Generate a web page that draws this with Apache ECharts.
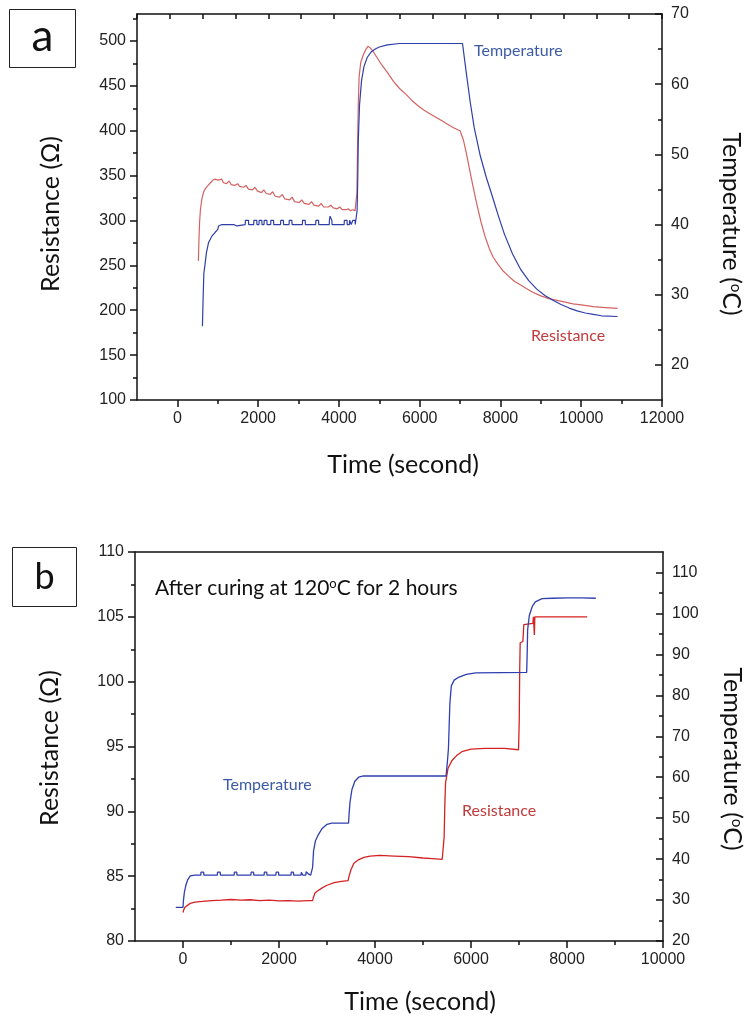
<!DOCTYPE html>
<html><head><meta charset="utf-8">
<script src="https://cdn.jsdelivr.net/npm/echarts@6/dist/echarts.min.js"></script>
<style>html,body{margin:0;padding:0;background:#fff}#c{width:748px;height:1017px}</style>
</head><body><div id="c"></div>
<script>
// ---------- tick labels ----------
const aTimeTicks = [0, 2000, 4000, 6000, 8000, 10000, 12000];
const aTimeMinor = [1000, 3000, 5000, 7000, 9000, 11000];
const aResTicks = [100, 150, 200, 250, 300, 350, 400, 450, 500];
const aResMinor = [125, 175, 225, 275, 325, 375, 425, 475, 525];
const aTempTicks = [20, 30, 40, 50, 60, 70];
const aTempMinor = [25, 35, 45, 55, 65];
const bTimeTicks = [0, 2000, 4000, 6000, 8000, 10000];
const bTimeMinor = [1000, 3000, 5000, 7000, 9000];
const bResTicks = [80, 85, 90, 95, 100, 105, 110];
const bResMinor = [82.5, 87.5, 92.5, 97.5, 102.5, 107.5];
const bTempTicks = [20, 30, 40, 50, 60, 70, 80, 90, 100, 110];
const bTempMinor = [25, 35, 45, 55, 65, 75, 85, 95, 105];

// ---------- panel a: resistance (ohm) vs time (s) ----------
const resA = [[520,255],[535,280],[550,298],[570,312],[600,322],[620,327],[660,333],[700,336],[760,339],[820,342],[880,345],[930,346],[970,344],[1010,345],[1050,343],[1100,346],[1140,342],[1220,341],[1280,344],[1330,340],[1420,339],[1490,341],[1540,338],[1640,337],[1700,339],[1760,335],[1860,334],[1920,337],[1980,333],[2080,331],[2140,334],[2200,330],[2300,329],[2360,332],[2420,327],[2530,326],[2600,329],[2660,324],[2780,323],[2840,326],[2900,321],[3020,320],[3080,323],[3140,319],[3260,318],[3320,321],[3380,317],[3500,316],[3560,319],[3620,315],[3740,315],[3800,317],[3860,314],[3960,313],[4020,315],[4080,312],[4180,312],[4230,313],[4280,311],[4340,312],[4400,311],[4430,313],[4445,330],[4460,380],[4480,430],[4500,460],[4540,476],[4600,484],[4660,490],[4720,494],[4780,492],[4850,488],[4950,481],[5050,474],[5200,465],[5350,455],[5500,447],[5650,441],[5800,434],[5950,428],[6100,423],[6250,419],[6400,415],[6550,411],[6700,407],[6850,403],[7000,400],[7030,398],[7080,390],[7150,376],[7230,358],[7320,338],[7420,317],[7520,298],[7620,282],[7720,269],[7820,259],[7940,251],[8060,244],[8200,238],[8350,232],[8500,228],[8650,224],[8800,220],[9000,216],[9200,213],[9400,211],[9600,209],[9800,207],[10000,206],[10300,204],[10600,203],[10900,202]];

// ---------- panel a: temperature (degC) vs time (s) ----------
const tempA = [[620,25.5],[635,29],[655,33],[688,34.5],[720,36.0],[770,37.4],[850,38.3],[937,38.9],[1000,39.3],[1020,39.8],[1100,40.0],[1400,40.0],[1410,39.8],[1470,39.8],[1480,40.0],
[1680,40.0],[1685,40.6],[1760,40.6],[1765,40.0],
[1890,40.0],[1895,40.6],[1965,40.6],[1970,40.0],
[2020,40.0],[2025,40.6],[2090,40.6],[2095,40.0],
[2145,40.0],[2150,40.6],[2215,40.6],[2220,40.0],
[2310,40.0],[2315,40.6],[2380,40.6],[2385,40.0],
[2555,40.0],[2560,40.6],[2625,40.6],[2630,40.0],
[2765,40.0],[2770,40.6],[2835,40.6],[2840,40.0],
[3095,40.0],[3100,40.6],[3165,40.6],[3170,40.0],
[3425,40.0],[3430,40.6],[3495,40.6],[3500,40.0],
[3760,40.0],[3765,40.6],[3780,41.2],[3810,41.2],[3825,40.6],[3830,40.0],
[4130,40.0],[4135,40.6],[4200,40.6],[4205,40.0],
[4260,40.0],[4265,40.6],[4300,40.6],[4305,40.0],
[4340,40.0],[4345,40.6],[4400,40.6],[4405,40.0],
[4440,40.0],[4450,42],[4465,46],[4480,52],[4510,57],[4560,60.5],[4620,62.5],[4700,63.8],[4800,64.6],[4900,65.0],[5000,65.3],[5200,65.6],[5500,65.8],[7060,65.8],[7150,61.8],[7250,57.5],[7350,53.8],[7500,49.8],[7650,46.7],[7800,44.0],[7950,41.2],[8100,38.6],[8300,35.8],[8500,33.6],[8700,32.0],[8900,30.8],[9100,29.9],[9300,29.2],[9500,28.6],[9700,28.1],[9900,27.7],[10100,27.4],[10300,27.2],[10500,27.0],[10900,26.9]];

// ---------- panel b: temperature (degC) vs time (s) ----------
const tempB = [[-150,28.2],[0,28.2],[10,30],[30,32],[60,33.6],[100,35.0],[150,35.9],[250,36.1],
[370,36.1],[375,36.8],[430,36.8],[435,36.1],
[715,36.1],[720,36.8],[775,36.8],[780,36.1],
[1065,36.1],[1070,36.8],[1120,36.8],[1125,36.1],
[1415,36.1],[1420,36.8],[1470,36.8],[1475,36.1],
[1690,36.1],[1695,36.8],[1745,36.8],[1750,36.1],
[1935,36.1],[1940,36.8],[1990,36.8],[1995,36.1],
[2250,36.1],[2255,36.8],[2300,36.8],[2305,36.1],
[2460,36.1],[2465,36.8],[2490,36.8],[2495,36.1],
[2560,36.1],[2565,36.9],[2600,36.9],[2610,36.4],[2660,36.1],
[2690,36.1],[2700,38],[2720,42],[2760,44.5],[2820,46],[2900,47.5],[3000,48.5],[3100,48.8],[3450,48.8],[3460,51],[3480,54],[3520,57],[3580,59],[3660,60],[3760,60.3],[5480,60.3],[5510,64],[5530,67],[5560,78],[5590,82.3],[5650,83.7],[5740,84.4],[5900,85.1],[6100,85.5],[7160,85.6],[7170,90],[7180,96],[7215,99.5],[7280,101.8],[7340,102.8],[7480,103.6],[7700,103.7],[8000,103.8],[8300,103.8],[8600,103.7]];

// ---------- panel b: resistance (ohm) vs time (s) ----------
const resB = [[0,82.2],[15,82.4],[40,82.6],[80,82.75],[150,82.9],[250,83.0],[400,83.05],[600,83.12],[800,83.15],[1000,83.2],[1200,83.15],[1400,83.18],[1600,83.12],[1800,83.15],[2000,83.1],[2200,83.12],[2400,83.08],[2600,83.12],[2700,83.12],[2720,83.4],[2750,83.7],[2800,83.85],[2900,84.1],[3000,84.3],[3150,84.5],[3300,84.6],[3440,84.65],[3460,85.0],[3500,85.5],[3560,86.0],[3650,86.25],[3770,86.45],[3900,86.55],[4100,86.6],[4400,86.55],[4700,86.5],[5000,86.4],[5200,86.35],[5400,86.3],[5425,86.4],[5440,88],[5455,90.5],[5470,92.2],[5520,93.3],[5600,93.9],[5700,94.3],[5810,94.6],[6000,94.8],[6300,94.85],[6700,94.85],[6990,94.75],[7005,97],[7015,101],[7025,103.0],[7080,103.1],[7090,103.7],[7100,104.4],[7290,104.5],[7300,105.0],[7320,103.6],[7330,105.0],[8420,105.0]];

// ---------- styling ----------
const AX = '#111';
const TF = 'Lato, "Open Sans", sans-serif';
const LINE = {show: true, onZero: false, lineStyle: {color: AX, width: 1.5}};
const NOLINE = {show: false, onZero: false};
const LBL = {fontFamily: '"Liberation Sans", Arial, sans-serif', fontSize: 16, color: '#222'};
const fmt = v => String(v);
const tick = (vals, len, inside) => ({show: true, customValues: vals, length: len, inside: !!inside, lineStyle: {color: AX, width: 1.5}});

function mainX(grid, min, max, ticks) {
  return {type: 'value', gridIndex: grid, position: 'bottom', min, max,
    axisLine: LINE, axisTick: tick(ticks, 7, false),
    axisLabel: Object.assign({customValues: ticks, margin: 11, formatter: fmt}, LBL),
    splitLine: {show: false}};
}
function minorAxis(grid, pos, min, max, vals, inside) {
  return {type: 'value', gridIndex: grid, position: pos, min, max,
    axisLine: NOLINE, axisTick: tick(vals, 4, inside), axisLabel: {show: false}, splitLine: {show: false}};
}
function yMain(grid, pos, min, max, ticks, inside) {
  return {type: 'value', gridIndex: grid, position: pos, min, max,
    axisLine: LINE, axisTick: tick(ticks, 7, inside),
    axisLabel: Object.assign({customValues: ticks, margin: pos === 'left' ? 11 : 9, formatter: fmt}, LBL),
    splitLine: {show: false}};
}
function title(text, x, y, rot) {
  return {type: 'text', x, y, rotation: rot, style: {text, font: '25px ' + TF, fill: '#111',
    textAlign: 'center', textVerticalAlign: 'middle', align: 'center', verticalAlign: 'middle',
    rich: {sup: {fontSize: 15, fontFamily: TF, fill: '#111', verticalAlign: 'top'}}}};
}
function note(text, x, y, color) {
  return {type: 'text', x, y, style: {text, font: '16px ' + TF, fill: color, textVerticalAlign: 'middle', verticalAlign: 'middle'}};
}

const option = {
  animation: false,
  backgroundColor: '#fff',
  grid: [
    {left: 137, top: 14, width: 525, height: 386},
    {left: 135, top: 552, width: 528, height: 389}
  ],
  xAxis: [
    mainX(0, -1000, 12000, aTimeTicks),
    minorAxis(0, 'bottom', -1000, 12000, aTimeMinor, false),
    {type: 'value', gridIndex: 0, position: 'top', min: 0, max: 16, interval: 1, axisLine: LINE,
      axisTick: {show: true, inside: true, length: 5, lineStyle: {color: AX, width: 1.5}}, axisLabel: {show: false}, splitLine: {show: false}},
    mainX(1, -1000, 10000, bTimeTicks),
    minorAxis(1, 'bottom', -1000, 10000, bTimeMinor, false),
    {type: 'value', gridIndex: 1, position: 'top', min: 0, max: 1, axisLine: LINE, axisTick: {show: false}, axisLabel: {show: false}, splitLine: {show: false}}
  ],
  yAxis: [
    yMain(0, 'left', 100, 530, aResTicks, false),
    minorAxis(0, 'left', 100, 530, aResMinor, false),
    yMain(0, 'right', 15, 70, aTempTicks, true),
    minorAxis(0, 'right', 15, 70, aTempMinor, true),
    yMain(1, 'left', 80, 110, bResTicks, false),
    minorAxis(1, 'left', 80, 110, bResMinor, false),
    yMain(1, 'right', 20, 115, bTempTicks, true),
    minorAxis(1, 'right', 20, 115, bTempMinor, true)
  ],
  series: [
    {type: 'line', xAxisIndex: 0, yAxisIndex: 0, data: resA, showSymbol: false, lineStyle: {color: '#d46262', width: 1.2}, itemStyle: {color: '#d46262'}},
    {type: 'line', xAxisIndex: 0, yAxisIndex: 2, data: tempA, showSymbol: false, lineStyle: {color: '#2f3fa8', width: 1.2}, itemStyle: {color: '#2f3fa8'}},
    {type: 'line', xAxisIndex: 3, yAxisIndex: 4, data: resB, showSymbol: false, lineStyle: {color: '#d42222', width: 1.3}, itemStyle: {color: '#d42222'}},
    {type: 'line', xAxisIndex: 3, yAxisIndex: 6, data: tempB, showSymbol: false, lineStyle: {color: '#2f3fb0', width: 1.3}, itemStyle: {color: '#2f3fb0'}}
  ],
  graphic: [
    {type: 'rect', shape: {x: 9.5, y: 9.5, width: 66, height: 58}, style: {fill: '#fff', stroke: '#222', lineWidth: 1}},
    {type: 'text', x: 42.5, y: 37, style: {text: 'a', font: '44px ' + TF, fill: '#111', textAlign: 'center', textVerticalAlign: 'middle', align: 'center', verticalAlign: 'middle'}},
    {type: 'rect', shape: {x: 12.5, y: 547.5, width: 64, height: 59}, style: {fill: '#fff', stroke: '#222', lineWidth: 1}},
    {type: 'text', x: 44.5, y: 577, style: {text: 'b', font: '36px ' + TF, fill: '#111', textAlign: 'center', textVerticalAlign: 'middle', align: 'center', verticalAlign: 'middle'}},
    title('Resistance (Ω)', 51, 214, Math.PI / 2),
    title('Temperature ({sup|o}C)', 731, 224, -Math.PI / 2),
    title('Time (second)', 403, 465, 0),
    title('Resistance (Ω)', 50, 748, Math.PI / 2),
    title('Temperature ({sup|o}C)', 732, 759, -Math.PI / 2),
    title('Time (second)', 420, 1002, 0),
    note('Temperature', 474, 51, '#3b5ba5'),
    note('Resistance', 531, 336, '#c23b3b'),
    note('Temperature', 223, 785, '#3b5ba5'),
    note('Resistance', 462, 811, '#c23b3b'),
    {type: 'text', x: 155, y: 588, style: {text: 'After curing at 120{sup|o}C for 2 hours', font: '21px ' + TF, fill: '#111', textVerticalAlign: 'middle', verticalAlign: 'middle',
      rich: {sup: {fontSize: 13, fontFamily: TF, fill: '#111', verticalAlign: 'top'}}}}
  ]
};
const chart = echarts.init(document.getElementById('c'), null, {renderer: 'canvas'});
chart.setOption(option);
</script></body></html>
